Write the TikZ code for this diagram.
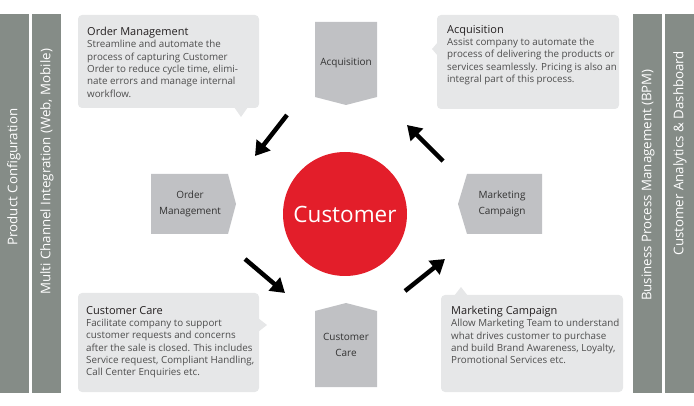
\documentclass[tikz,border=0pt]{standalone}
\usepackage{fontspec}
\setmainfont{Open Sans}
\usetikzlibrary{arrows.meta}

\definecolor{barcol}{RGB}{133,140,135}
\definecolor{boxcol}{RGB}{230,231,232}
\definecolor{tagcol}{RGB}{192,193,196}
\definecolor{custred}{RGB}{227,30,42}
\definecolor{titlecol}{RGB}{35,31,32}
\definecolor{bodycol}{RGB}{77,77,77}

\begin{document}
\begin{tikzpicture}[x=1pt,y=-1pt,
    sidebar/.style={fill=barcol,inner sep=0pt,minimum width=29,minimum height=379},
    bartext/.style={rotate=90,text=white,font=\fontsize{13.3}{15}\selectfont},
    infobox/.style={fill=boxcol,rounded corners=4pt,inner sep=0pt},
    infotext/.style={anchor=north west,inner sep=0pt,align=left,text=bodycol,
                     font=\fontsize{9.8}{12.3}\selectfont},
    tagtext/.style={align=center,text=black!80,font=\fontsize{10}{16.5}\selectfont},
    bigarrow/.style={-{Triangle[length=14pt,width=17pt]},line width=4.5pt}]
    \useasboundingbox (0,0) rectangle (694,406);

    % side bars
    \node[sidebar] (pcbar) at (14.25,203.5) {};
    \node[sidebar] (mcbar) at (46.75,203.5) {};
    \node[sidebar] (bpmbar) at (647.5,203.5) {};
    \node[sidebar] (cabar) at (679.5,203.5) {};
    \node[bartext] (pctext) at (14,177) {Product Configuration};
    \node[bartext] (mctext) at (47,172) {Multi Channel Integration (Web, Mobile)};
    \node[bartext] (bpmtext) at (648,185) {Business Process Management (BPM)};
    \node[bartext] (catext) at (680,153) {Customer Analytics \& Dashboard};

    % info boxes
    \node[infobox,minimum width=181,minimum height=93] (omdesc) at (168.5,61.5) {};
    \fill[boxcol] (234,107) -- (248,107) -- (241,117) -- cycle;
    \node[infobox,minimum width=182,minimum height=94] (acqdesc) at (528,62) {};
    \fill[boxcol] (438,42) -- (438,56) -- (432,49) -- cycle;
    \node[infobox,minimum width=181,minimum height=99] (ccdesc) at (168.5,342.5) {};
    \fill[boxcol] (258,318) -- (258,332) -- (267,325) -- cycle;
    \node[infobox,minimum width=182,minimum height=97] (mcdesc) at (532,343.5) {};
    \fill[boxcol] (454,296) -- (468,296) -- (461,287) -- cycle;

    \node[infotext] (omtext) at (87,27) {{\color{titlecol}\fontsize{11}{12.3}\selectfont Order Management}\\
        Streamline and automate the\\ process of capturing Customer\\
        Order to reduce cycle time, elimi-\\ nate errors and manage internal\\ workflow.};
    \node[infotext] (acqtext) at (447,25) {{\color{titlecol}\fontsize{11}{12.3}\selectfont Acquisition}\\
        Assist company to automate the\\ process of delivering the products or\\
        services seamlessly. Pricing is also an\\ integral part of this process.};
    \node[infotext] (cctext) at (86,306) {{\color{titlecol}\fontsize{11}{12.3}\selectfont Customer Care}\\
        Facilitate company to support\\ customer requests and concerns\\
        after the sale is closed. This includes\\ Service request, Compliant Handling,\\
        Call Center Enquiries etc.};
    \node[infotext] (mctext2) at (451,306) {{\color{titlecol}\fontsize{11}{12.3}\selectfont Marketing Campaign}\\
        Allow Marketing Team to understand\\ what drives customer to purchase\\
        and build Brand Awareness, Loyalty,\\ Promotional Services etc.};

    % tags
    \fill[tagcol] (315,22) -- (377,22) -- (377,97) -- (346,105) -- (315,97) -- cycle;
    \fill[tagcol] (315,311) -- (346,303) -- (377,311) -- (377,387) -- (315,387) -- cycle;
    \fill[tagcol] (151,174) -- (228,174) -- (236,204) -- (228,234) -- (151,234) -- cycle;
    \fill[tagcol] (467,174) -- (542,174) -- (542,234) -- (467,234) -- (458,204) -- cycle;
    \node[tagtext] (acqtag) at (346,63) {Acquisition};
    \node[tagtext] (cctag) at (346,345) {Customer\\Care};
    \node[tagtext] (omtag) at (190,204) {Order\\Management};
    \node[tagtext] (mctag) at (502,204) {Marketing\\Campaign};

    % customer
    \node[circle,fill=custred,minimum size=124,inner sep=0pt,text=white,
          font=\fontsize{22.5}{26}\selectfont] (cust) at (345,214) {Customer};

    % arrows
    \coordinate (a1) at (287,115);
    \coordinate (b1) at (255,156);
    \coordinate (a2) at (443,161);
    \coordinate (b2) at (407,125);
    \coordinate (a3) at (245,259);
    \coordinate (b3) at (285,293);
    \coordinate (a4) at (405,291);
    \coordinate (b4) at (445,259);
    \draw[bigarrow] (a1) -- (b1);
    \draw[bigarrow] (a2) -- (b2);
    \draw[bigarrow] (a3) -- (b3);
    \draw[bigarrow] (a4) -- (b4);
\end{tikzpicture}
\end{document}
